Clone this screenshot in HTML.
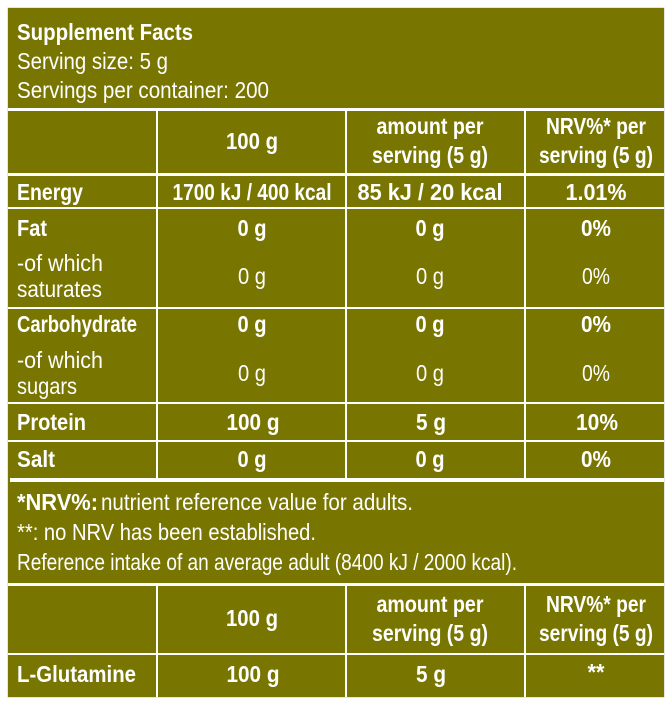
<!DOCTYPE html>
<html>
<head>
<meta charset="utf-8">
<style>
  html, body { margin: 0; padding: 0; background: #ffffff; }
  body { width: 670px; height: 703px; overflow: hidden; }
  svg { display: block; }
  text { font-family: "Liberation Sans", Arial, sans-serif; font-size: 23px; fill: #ffffff; }
  .b { font-weight: bold; }
</style>
</head>
<body>
<svg width="670" height="703" viewBox="0 0 670 703" xmlns="http://www.w3.org/2000/svg">
  <rect x="0" y="0" width="670" height="703" fill="#ffffff"/>
  <rect x="7.5" y="7.5" width="657" height="690" fill="#c9c9c0"/>
  <rect x="8" y="8" width="656" height="689" fill="#787600"/>

  <!-- horizontal white lines -->
  <rect x="8" y="108" width="656" height="3" fill="#fff"/>
  <rect x="8" y="173" width="656" height="3" fill="#fff"/>
  <rect x="8" y="207" width="656" height="2" fill="#fff"/>
  <rect x="8" y="307" width="656" height="2" fill="#fff"/>
  <rect x="8" y="402" width="656" height="2" fill="#fff"/>
  <rect x="8" y="440" width="656" height="2" fill="#fff"/>
  <rect x="10" y="478" width="654" height="4" fill="#fff"/>
  <rect x="8" y="583" width="656" height="3" fill="#fff"/>
  <rect x="8" y="653" width="656" height="2" fill="#fff"/>

  <!-- vertical white lines -->
  <rect x="156" y="111" width="2" height="367" fill="#fff"/>
  <rect x="345" y="111" width="2" height="367" fill="#fff"/>
  <rect x="524" y="111" width="2" height="367" fill="#fff"/>
  <rect x="156" y="586" width="2" height="111" fill="#fff"/>
  <rect x="345" y="586" width="2" height="111" fill="#fff"/>
  <rect x="524" y="586" width="2" height="111" fill="#fff"/>

  <!-- header box -->
  <text class="b" x="17" y="40" textLength="176" lengthAdjust="spacingAndGlyphs">Supplement Facts</text>
  <text x="17" y="69" textLength="151" lengthAdjust="spacingAndGlyphs">Serving size: 5 g</text>
  <text x="17" y="98" textLength="252" lengthAdjust="spacingAndGlyphs">Servings per container: 200</text>

  <!-- column headers -->
  <text class="b" x="252" y="149" text-anchor="middle" textLength="52" lengthAdjust="spacingAndGlyphs">100 g</text>
  <text class="b" x="430" y="134" text-anchor="middle" textLength="107" lengthAdjust="spacingAndGlyphs">amount per</text>
  <text class="b" x="430" y="163" text-anchor="middle" textLength="116" lengthAdjust="spacingAndGlyphs">serving (5 g)</text>
  <text class="b" x="596" y="134" text-anchor="middle" textLength="100" lengthAdjust="spacingAndGlyphs">NRV%* per</text>
  <text class="b" x="596" y="163" text-anchor="middle" textLength="114" lengthAdjust="spacingAndGlyphs">serving (5 g)</text>

  <!-- Energy -->
  <text class="b" x="17" y="200" textLength="66" lengthAdjust="spacingAndGlyphs">Energy</text>
  <text class="b" x="252" y="200" text-anchor="middle" textLength="159" lengthAdjust="spacingAndGlyphs">1700 kJ / 400 kcal</text>
  <text class="b" x="430" y="200" text-anchor="middle" textLength="145" lengthAdjust="spacingAndGlyphs">85 kJ / 20 kcal</text>
  <text class="b" x="596" y="200" text-anchor="middle" textLength="61" lengthAdjust="spacingAndGlyphs">1.01%</text>

  <!-- Fat -->
  <text class="b" x="17" y="236" textLength="30" lengthAdjust="spacingAndGlyphs">Fat</text>
  <text class="b" x="252" y="236" text-anchor="middle" textLength="29" lengthAdjust="spacingAndGlyphs">0 g</text>
  <text class="b" x="430" y="236" text-anchor="middle" textLength="29" lengthAdjust="spacingAndGlyphs">0 g</text>
  <text class="b" x="596" y="236" text-anchor="middle" textLength="30" lengthAdjust="spacingAndGlyphs">0%</text>
  <text x="17" y="271" textLength="86" lengthAdjust="spacingAndGlyphs">-of which</text>
  <text x="17" y="297" textLength="85" lengthAdjust="spacingAndGlyphs">saturates</text>
  <text x="252" y="284" text-anchor="middle" textLength="28" lengthAdjust="spacingAndGlyphs">0 g</text>
  <text x="430" y="284" text-anchor="middle" textLength="28" lengthAdjust="spacingAndGlyphs">0 g</text>
  <text x="596" y="284" text-anchor="middle" textLength="28" lengthAdjust="spacingAndGlyphs">0%</text>

  <!-- Carbohydrate -->
  <text class="b" x="17" y="332" textLength="120" lengthAdjust="spacingAndGlyphs">Carbohydrate</text>
  <text class="b" x="252" y="332" text-anchor="middle" textLength="29" lengthAdjust="spacingAndGlyphs">0 g</text>
  <text class="b" x="430" y="332" text-anchor="middle" textLength="29" lengthAdjust="spacingAndGlyphs">0 g</text>
  <text class="b" x="596" y="332" text-anchor="middle" textLength="30" lengthAdjust="spacingAndGlyphs">0%</text>
  <text x="17" y="368" textLength="86" lengthAdjust="spacingAndGlyphs">-of which</text>
  <text x="17" y="394" textLength="60" lengthAdjust="spacingAndGlyphs">sugars</text>
  <text x="252" y="381" text-anchor="middle" textLength="28" lengthAdjust="spacingAndGlyphs">0 g</text>
  <text x="430" y="381" text-anchor="middle" textLength="28" lengthAdjust="spacingAndGlyphs">0 g</text>
  <text x="596" y="381" text-anchor="middle" textLength="28" lengthAdjust="spacingAndGlyphs">0%</text>

  <!-- Protein -->
  <text class="b" x="17" y="430" textLength="69" lengthAdjust="spacingAndGlyphs">Protein</text>
  <text class="b" x="253" y="430" text-anchor="middle" textLength="53" lengthAdjust="spacingAndGlyphs">100 g</text>
  <text class="b" x="431" y="430" text-anchor="middle" textLength="30" lengthAdjust="spacingAndGlyphs">5 g</text>
  <text class="b" x="597" y="430" text-anchor="middle" textLength="42" lengthAdjust="spacingAndGlyphs">10%</text>

  <!-- Salt -->
  <text class="b" x="17" y="467" textLength="38" lengthAdjust="spacingAndGlyphs">Salt</text>
  <text class="b" x="252" y="467" text-anchor="middle" textLength="29" lengthAdjust="spacingAndGlyphs">0 g</text>
  <text class="b" x="430" y="467" text-anchor="middle" textLength="29" lengthAdjust="spacingAndGlyphs">0 g</text>
  <text class="b" x="596" y="467" text-anchor="middle" textLength="30" lengthAdjust="spacingAndGlyphs">0%</text>

  <!-- Footnotes -->
  <text class="b" x="17" y="510" textLength="81" lengthAdjust="spacingAndGlyphs">*NRV%:</text>
  <text x="101" y="510" textLength="312" lengthAdjust="spacingAndGlyphs">nutrient reference value for adults.</text>
  <text x="17" y="540" textLength="299" lengthAdjust="spacingAndGlyphs">**: no NRV has been established.</text>
  <text x="17" y="570" textLength="500" lengthAdjust="spacingAndGlyphs">Reference intake of an average adult (8400 kJ / 2000 kcal).</text>

  <!-- second header -->
  <text class="b" x="252" y="626" text-anchor="middle" textLength="52" lengthAdjust="spacingAndGlyphs">100 g</text>
  <text class="b" x="430" y="612" text-anchor="middle" textLength="107" lengthAdjust="spacingAndGlyphs">amount per</text>
  <text class="b" x="430" y="641" text-anchor="middle" textLength="116" lengthAdjust="spacingAndGlyphs">serving (5 g)</text>
  <text class="b" x="596" y="612" text-anchor="middle" textLength="100" lengthAdjust="spacingAndGlyphs">NRV%* per</text>
  <text class="b" x="596" y="641" text-anchor="middle" textLength="114" lengthAdjust="spacingAndGlyphs">serving (5 g)</text>

  <!-- L-Glutamine -->
  <text class="b" x="17" y="682" textLength="119" lengthAdjust="spacingAndGlyphs">L-Glutamine</text>
  <text class="b" x="253" y="682" text-anchor="middle" textLength="53" lengthAdjust="spacingAndGlyphs">100 g</text>
  <text class="b" x="431" y="682" text-anchor="middle" textLength="30" lengthAdjust="spacingAndGlyphs">5 g</text>
  <text class="b" x="596" y="680" text-anchor="middle" textLength="17" lengthAdjust="spacingAndGlyphs">**</text>
</svg>
</body>
</html>
